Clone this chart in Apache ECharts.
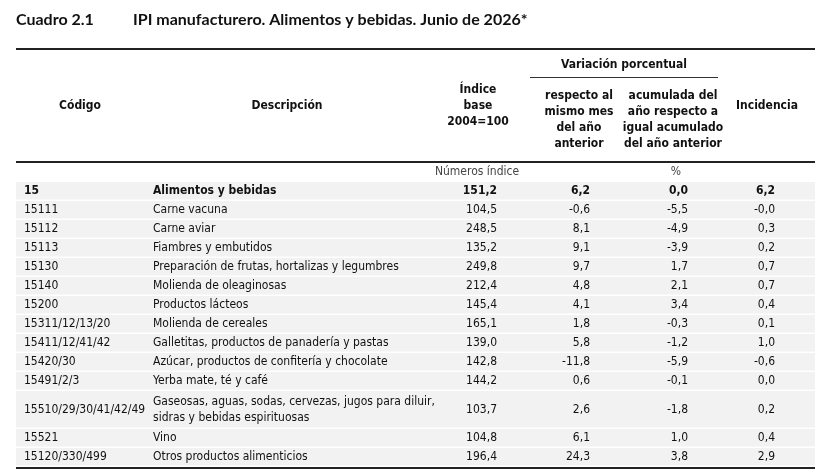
<!DOCTYPE html>
<html><head><meta charset="utf-8">
<script src="https://cdn.jsdelivr.net/npm/echarts@6/dist/echarts.min.js"></script>
<style>html,body{margin:0;padding:0;background:#fff}#c{width:829px;height:471px}</style>
</head><body><div id="c"></div>
<script>
var codes=["15","15111","15112","15113","15130","15140","15200","15311/12/13/20","15411/12/41/42","15420/30","15491/2/3","15510/29/30/41/42/49","15521","15120/330/499"];
var descs=["Alimentos y bebidas","Carne vacuna","Carne aviar","Fiambres y embutidos","Preparación de frutas, hortalizas y legumbres","Molienda de oleaginosas","Productos lácteos","Molienda de cereales","Galletitas, productos de panadería y pastas","Azúcar, productos de confitería y chocolate","Yerba mate, té y café","Gaseosas, aguas, sodas, cervezas, jugos para diluir,\nsidras y bebidas espirituosas","Vino","Otros productos alimenticios"];
var indice=["151,2","104,5","248,5","135,2","249,8","212,4","145,4","165,1","139,0","142,8","144,2","103,7","104,8","196,4"];
var varMes=["6,2","-0,6","8,1","9,1","9,7","4,8","4,1","1,8","5,8","-11,8","0,6","2,6","6,1","24,3"];
var varAcum=["0,0","-5,5","-4,9","-3,9","1,7","2,1","3,4","-0,3","-1,2","-5,9","-0,1","-1,8","1,0","3,8"];
var incid=["6,2","-0,0","0,3","0,2","0,7","0,7","0,4","0,1","1,0","-0,6","0,0","0,2","0,4","2,9"];
var rowLines=[1,1,1,1,1,1,1,1,1,1,1,2,1,1];

var F="'Liberation Sans Narrow','DejaVu Sans Condensed','Roboto Condensed',sans-serif";
var g=[];
function T(x,y,s,o){o=o||{};g.push({type:'text',x:x,y:y,style:{text:s,fill:o.c||'#111',font:(o.w||'normal')+' '+(o.s||12)+'px '+(o.f||F),textAlign:o.a||'left',textVerticalAlign:'middle',lineHeight:o.lh||16}});}
function R(x,y,w,h,c){g.push({type:'rect',shape:{x:x,y:y,width:w,height:h},style:{fill:c}});}
var TF="'Lato','Open Sans',sans-serif";
T(16,20,"Cuadro 2.1",{w:'bold',s:16,f:TF});
T(133,20,"IPI manufacturero. Alimentos y bebidas. Junio de 2026*",{w:'bold',s:16,f:TF});
R(16,48,799,2,'#222');
T(624,65,"Variación porcentual",{w:'bold',a:'center'});
R(530,77,188,1,'#333');
T(80,106,"Código",{w:'bold',a:'center'});
T(287,106,"Descripción",{w:'bold',a:'center'});
T(767,106,"Incidencia",{w:'bold',a:'center'});
T(478,106,"Índice\nbase\n2004=100",{w:'bold',a:'center'});
T(579,120,"respecto al\nmismo mes\ndel año\nanterior",{w:'bold',a:'center'});
T(673,120,"acumulada del\naño respecto a\nigual acumulado\ndel año anterior",{w:'bold',a:'center'});
R(16,161,799,2,'#222');
T(477,172,"Números índice",{c:'#444',a:'center'});
T(676,172,"%",{c:'#444',a:'center'});
var y=182, rh=19;
for(var i=0;i<codes.length;i++){
  var h=rh*rowLines[i];
  R(16,y,799,h-1.5,'#f2f2f2');
  var cy=y+h/2-0.5, b=i===0?'bold':'normal';
  T(24,cy,codes[i],{w:b});
  T(153,cy,descs[i],{w:b});
  T(497,cy,indice[i],{w:b,a:'right'});
  T(590,cy,varMes[i],{w:b,a:'right'});
  T(688,cy,varAcum[i],{w:b,a:'right'});
  T(775,cy,incid[i],{w:b,a:'right'});
  y+=h;
}
R(16,y,799,2,'#222');
var ch=echarts.init(document.getElementById('c'));
ch.setOption({animation:false,graphic:g});
</script></body></html>
